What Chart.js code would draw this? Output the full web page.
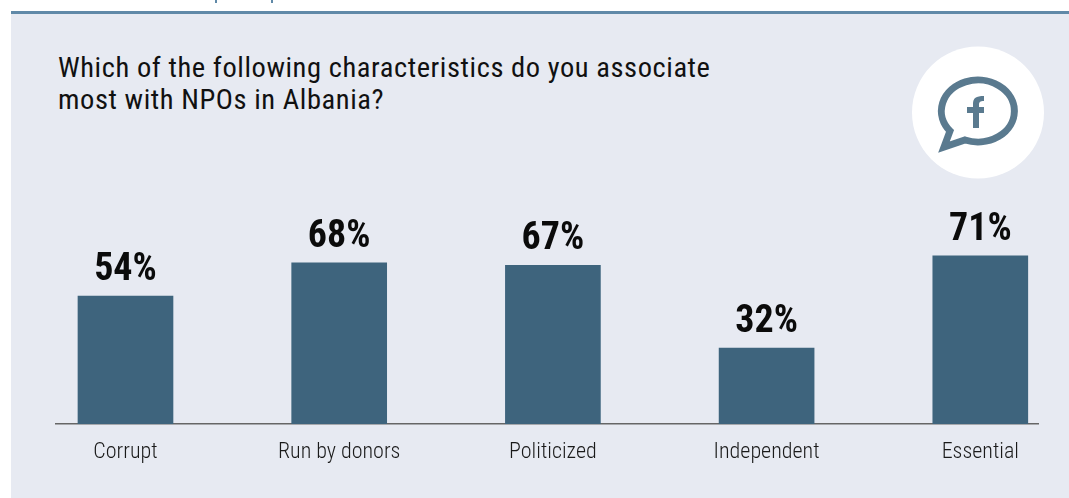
<!DOCTYPE html>
<html>
<head>
<meta charset="utf-8">
<style>
  body { margin: 0; background: #fff; }
  #wrap { position: relative; width: 1069px; height: 498px; overflow: hidden; }
  #panel { position: absolute; left: 11px; top: 11px; right: 0; bottom: 0; background: #E7EAF2; border-top: 3px solid #6089A8; }
  .stub { position: absolute; top: 0; width: 1.5px; height: 3px; background: #6089A8; }
  #title { position: absolute; left: 58px; top: 52px; font: 28.5px/32px "Roboto Condensed", sans-serif; color: #111; white-space: nowrap; letter-spacing: 0.57px; }
  #icon { position: absolute; left: 0; top: 0; }
  canvas { position: absolute; left: 0; top: 0; }
</style>
</head>
<body>
<div id="wrap">
  <div class="stub" style="left:215px"></div>
  <div class="stub" style="left:271px"></div>
  <div id="panel"></div>
  <div id="title">Which of the following characteristics do you associate<br>most with NPOs in Albania?</div>
  <svg id="icon" width="1069" height="498">
    <circle cx="978" cy="112.5" r="66" fill="#fff"/>
    <path d="M 950 131 A 36.5 31 0 1 1 965 140 L 944 147 Z" fill="none" stroke="#5A7A8F" stroke-width="7" stroke-miterlimit="10"/>
    <path d="M 973 128 V 104 C 973 98 976 96 984 96 V 101 C 980 101 979 102 979 105 V 107 H 984 V 113 H 979 V 128 Z M 967 107 H 973 V 113 H 967 Z" fill="#5A7A8F"/>
  </svg>
  <canvas id="myChart" width="1069" height="498"></canvas>
</div>
<script src="https://cdn.jsdelivr.net/npm/chart.js@4"></script>
<script>
const categories = ['Corrupt', 'Run by donors', 'Politicized', 'Independent', 'Essential'];
const values = [54, 68, 67, 32, 71];

// percent labels above each bar
const valueLabels = {
    id: 'valueLabels',
    afterDatasetsDraw(chart) {
        const ctx = chart.ctx;
        ctx.save();
        ctx.font = 'bold 38px "Roboto Condensed", sans-serif';
        ctx.fillStyle = '#0b0b0b';
        ctx.textAlign = 'center';
        ctx.textBaseline = 'alphabetic';
        chart.getDatasetMeta(0).data.forEach((bar, i) => {
            ctx.fillText(values[i] + '%', bar.x, bar.y - 16);
        });
        ctx.restore();
    }
};

new Chart(document.getElementById('myChart'), {
    type: 'bar',
    data: {
        datasets: [{
            data: values.map((v, i) => ({ x: i, y: v })),
            backgroundColor: '#3E647D',
            borderWidth: 0,
            barThickness: 95
        }]
    },
    plugins: [valueLabels],
    options: {
        responsive: false,
        animation: false,
        layout: { padding: { left: 55.5, right: 31, top: 187, bottom: 0 } },
        plugins: { legend: { display: false }, tooltip: { enabled: false } },
        scales: {
            x: {
                type: 'linear',
                offset: false,
                min: -0.3275,
                max: 4.27,
                grid: { display: false, drawTicks: false },
                border: { color: '#666', width: 1.5 },
                afterBuildTicks: scale => { scale.ticks = categories.map((c, i) => ({ value: i })); },
                afterFit: scale => { scale.height = 74; },
                ticks: {
                    autoSkip: false,
                    maxRotation: 0,
                    padding: 15,
                    color: '#1a1a1a',
                    font: { family: '"Roboto Condensed", sans-serif', size: 22, weight: 300 },
                    callback: value => categories[value]
                }
            },
            y: { display: false, min: 0, max: 100 }
        }
    }
});
</script>
</body>
</html>
